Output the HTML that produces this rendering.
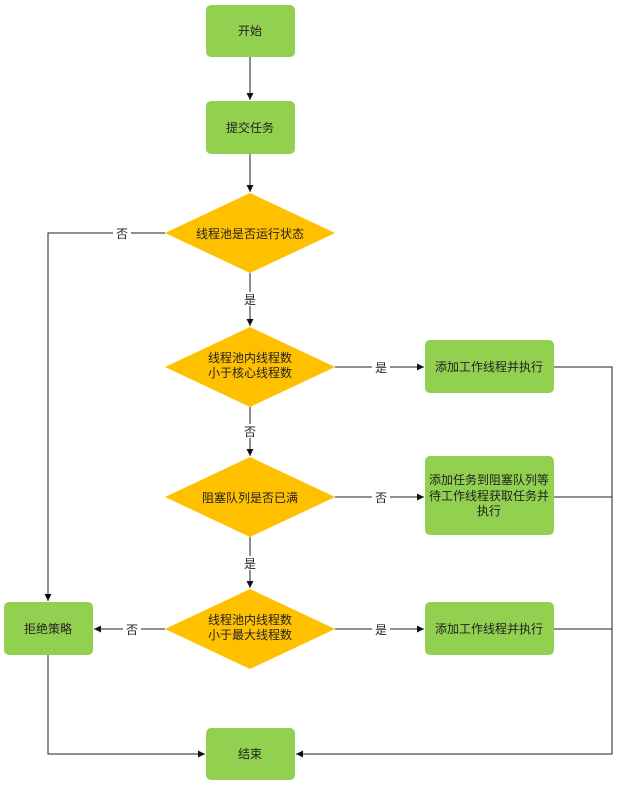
<!DOCTYPE html>
<html><head><meta charset="utf-8"><style>
body{margin:0;background:#fff;width:626px;height:784px;overflow:hidden}
svg text{font-family:"Liberation Sans","Noto Sans CJK SC",sans-serif;font-size:12px;fill:#222}
</style></head><body>
<svg width="626" height="784" viewBox="0 0 626 784" xmlns="http://www.w3.org/2000/svg">
<defs><marker id="a" markerWidth="8" markerHeight="8" refX="7" refY="4" orient="auto" markerUnits="userSpaceOnUse"><path d="M0,0.5 L7,4 L0,7.5 Z" fill="#111"/></marker></defs>
<g fill="#92d050">
<rect x="206" y="5" width="89" height="52" rx="5"/>
<rect x="206" y="101" width="89" height="53" rx="5"/>
<rect x="425" y="340" width="129" height="53" rx="5"/>
<rect x="425" y="456" width="129" height="79" rx="5"/>
<rect x="425" y="602" width="129" height="53" rx="5"/>
<rect x="4" y="602" width="89" height="53" rx="5"/>
<rect x="206" y="728" width="89" height="52" rx="5"/>
</g>
<g fill="#ffc000">
<polygon points="250,193 335,233 250,273 165,233"/>
<polygon points="250,327 335,367 250,407 165,367"/>
<polygon points="250,457 335,497 250,537 165,497"/>
<polygon points="250,589 335,629 250,669 165,629"/>
</g>
<g stroke="#222" stroke-width="1" fill="none">
<line x1="250" y1="57" x2="250" y2="100" marker-end="url(#a)"/>
<line x1="250" y1="154" x2="250" y2="192" marker-end="url(#a)"/>
<line x1="250" y1="273" x2="250" y2="326" marker-end="url(#a)"/>
<line x1="250" y1="407" x2="250" y2="456" marker-end="url(#a)"/>
<line x1="250" y1="537" x2="250" y2="588" marker-end="url(#a)"/>
<line x1="335" y1="367" x2="424" y2="367" marker-end="url(#a)"/>
<line x1="335" y1="497" x2="424" y2="497" marker-end="url(#a)"/>
<line x1="335" y1="629" x2="424" y2="629" marker-end="url(#a)"/>
<line x1="165" y1="629" x2="94" y2="629" marker-end="url(#a)"/>
<polyline points="165,233 48,233 48,601" marker-end="url(#a)"/>
<polyline points="48,655 48,754 205,754" marker-end="url(#a)"/>
<polyline points="554,367 612,367 612,754 296,754" marker-end="url(#a)"/>
<line x1="554" y1="497" x2="612" y2="497"/>
<line x1="554" y1="629" x2="612" y2="629"/>
</g>
<g text-anchor="middle">
<rect x="113" y="226" width="18" height="14" fill="#fff"/><text x="122" y="238">否</text>
<rect x="241" y="292" width="18" height="14" fill="#fff"/><text x="250" y="304">是</text>
<rect x="372" y="360" width="18" height="14" fill="#fff"/><text x="381" y="372">是</text>
<rect x="241" y="424" width="18" height="14" fill="#fff"/><text x="250" y="436">否</text>
<rect x="372" y="490" width="18" height="14" fill="#fff"/><text x="381" y="502">否</text>
<rect x="241" y="556" width="18" height="14" fill="#fff"/><text x="250" y="568">是</text>
<rect x="372" y="622" width="18" height="14" fill="#fff"/><text x="381" y="634">是</text>
<rect x="123" y="622" width="18" height="14" fill="#fff"/><text x="132" y="634">否</text>
<text x="250" y="35">开始</text>
<text x="250" y="132">提交任务</text>
<text x="250" y="238">线程池是否运行状态</text>
<text x="250" y="362">线程池内线程数</text><text x="250" y="377">小于核心线程数</text>
<text x="250" y="502">阻塞队列是否已满</text>
<text x="250" y="624">线程池内线程数</text><text x="250" y="639">小于最大线程数</text>
<text x="489" y="371">添加工作线程并执行</text>
<text x="489" y="484">添加任务到阻塞队列等</text><text x="489" y="500">待工作线程获取任务并</text><text x="489" y="515">执行</text>
<text x="489" y="633">添加工作线程并执行</text>
<text x="48" y="633">拒绝策略</text>
<text x="250" y="758">结束</text>
</g>
</svg>
</body></html>
